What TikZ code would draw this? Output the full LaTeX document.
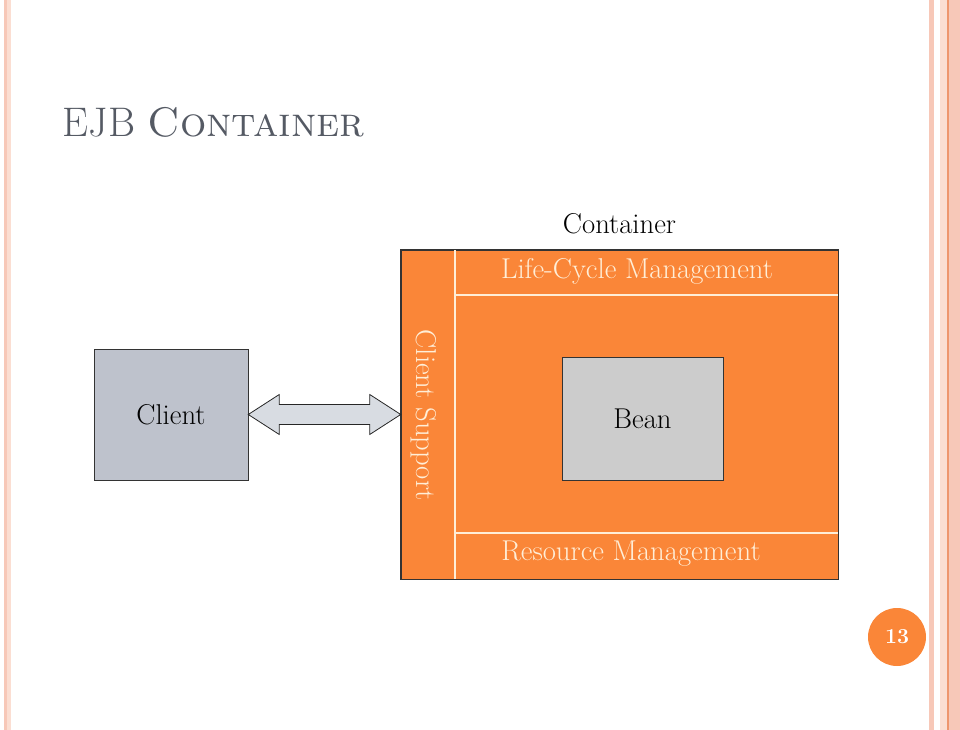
\documentclass[tikz,border=0pt]{standalone}
\usetikzlibrary{calc,positioning}

\definecolor{slidegray}{RGB}{85,90,100}
\definecolor{contorange}{RGB}{250,134,56}
\definecolor{cream}{RGB}{255,238,215}
\definecolor{clientgray}{RGB}{190,194,204}
\definecolor{beangray}{RGB}{204,204,204}
\definecolor{arrowgray}{RGB}{216,220,226}
\definecolor{stripea}{RGB}{247,200,184}
\definecolor{stripeb}{RGB}{251,222,210}
\definecolor{stripec}{RGB}{238,150,110}

\tikzstyle{box} = [draw=black!80,thin,rectangle,inner sep=0pt]
\tikzstyle{sep} = [draw=cream,line width=0.9pt]
\tikzstyle{lbl} = [font=\fontsize{21.5}{25}\selectfont]
\tikzstyle{inlbl} = [lbl,text=cream]
\newcommand{\pxs}{0.75pt}

\begin{document}
\begin{tikzpicture}[x=0.75pt, y=-0.75pt]
    \useasboundingbox (0,0) rectangle (960,730);
    % First we draw the slide frame
    \foreach \xa/\xb/\col in {4/7/stripea, 7/11/stripeb, 929/934/stripea, 940/947/stripeb, 947/949/stripec, 949/960/stripea}
        \fill[\col] (\xa,0) rectangle (\xb,730);
    \node[anchor=base west, text=slidegray, font=\fontsize{31}{37}\selectfont] (title) at (58,137) {EJB \textsc{Container}};

    % Then the boxes
    \node[box, fill=clientgray, minimum width=154*\pxs, minimum height=131*\pxs, lbl] (client) at (171,414.5) {Client};
    \node[box, fill=contorange, minimum width=437*\pxs, minimum height=329*\pxs] (cont) at (619.5,414.5) {};
    \node[lbl, above=8pt of cont.north] (contlbl) {Container};
    \node[inlbl, rotate=-90] (cs) at (424,415) {Client Support};
    \node[inlbl] (lcm) at (637,271) {Life-Cycle Management};
    \node[inlbl] (rm) at (631,554) {Resource Management};
    \node[box, fill=beangray, minimum width=161*\pxs, minimum height=123*\pxs, lbl] (bean) at (642.5,418.5) {Bean};

    % Separators inside the container
    \coordinate (colsep) at (455,250);
    \coordinate (hdr) at (455,295);
    \coordinate (ftr) at (455,533);
    \path[sep] (colsep) -- (colsep |- cont.south);
    \path[sep] (hdr) -- (hdr -| cont.east);
    \path[sep] (ftr) -- (ftr -| cont.east);
    \draw[draw=black!80,thin] (cont.north west) rectangle (cont.south east);

    % Connect client and container with a double arrow
    \draw[draw=black!85,fill=arrowgray,line join=miter,semithick]
        (client.east) -- ++(31,-20) -- ++(0,10) -- ($(cont.west)+(-31,-10)$)
        -- ++(0,-10) -- (cont.west) -- ++(-31,20) -- ++(0,-10)
        -- ($(client.east)+(31,10)$) -- ++(0,10) -- cycle;

    % Page number
    \node[circle, fill=contorange, minimum size=58*\pxs, inner sep=0pt, text=white,
          font=\fontsize{16}{18}\selectfont\bfseries] (page) at (897,637) {13};
\end{tikzpicture}
\end{document}
